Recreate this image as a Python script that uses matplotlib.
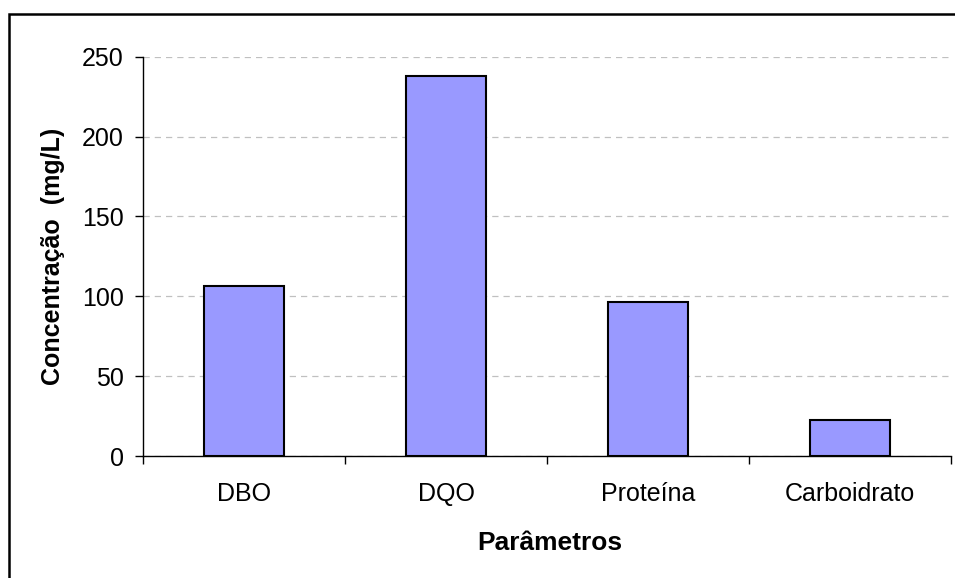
import matplotlib
matplotlib.use("Agg")
import matplotlib.pyplot as plt
from matplotlib.patches import Rectangle
import numpy as np

plt.rcParams['font.family'] = ['Liberation Sans', 'DejaVu Sans']

categories = ["DBO", "DQO", "Proteína", "Carboidrato"]
values = [106.5, 238, 96.5, 22.5]
yticks = [0, 50, 100, 150, 200, 250]

W, H = 955, 578
fig = plt.figure(figsize=(W / 100, H / 100), dpi=100)
ax = fig.add_axes([143 / W, (H - 456) / H, (951 - 143) / W, (456 - 56.7) / H])

x = np.arange(len(categories))
ax.bar(x, values, width=0.4, color="#9999FF", edgecolor="black", linewidth=1.5, zorder=3)

ax.set_xlim(-0.5, len(categories) - 0.5)
ax.set_ylim(0, 250)
ax.set_yticks(yticks)
ax.set_yticklabels([str(t) for t in yticks], fontsize=18)
ax.yaxis.grid(True, linestyle=(0, (5, 4)), color="#c0c0c0", linewidth=0.9, zorder=0)
ax.set_xticks(x)
ax.set_xticklabels(categories, fontsize=18)
ax.set_xticks(np.arange(-0.5, len(categories)), minor=True)
ax.tick_params(axis="x", which="major", length=0, pad=19)
ax.tick_params(axis="x", which="minor", length=6, width=1, direction="out")
ax.tick_params(axis="y", length=6, width=1, direction="out", pad=8)
for s in ["top", "right"]:
    ax.spines[s].set_visible(False)
ax.spines["left"].set_color("black")
ax.spines["bottom"].set_color("black")
ax.spines["left"].set_linewidth(1)
ax.spines["bottom"].set_linewidth(1)

fig.text(53 / W, 1 - 256.5 / H, "Concentração  (mg/L)", rotation=90, ha="center", va="center",
         fontsize=18, fontweight="bold")
fig.text(550 / W, 1 - 543 / H, "Parâmetros", ha="center", va="center",
         fontsize=19, fontweight="bold")

fig.patches.append(Rectangle((9 / W, -0.05), 1.1, 1 - 14 / H + 0.05, transform=fig.transFigure,
                             fill=False, edgecolor="black", linewidth=1.8, clip_on=False))

fig.savefig("out.png", dpi=100)
